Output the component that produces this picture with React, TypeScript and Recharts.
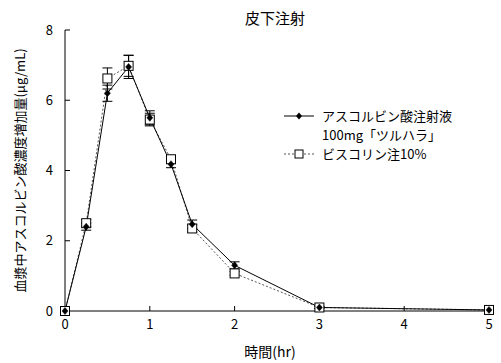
import { type FC } from "react";
import { ErrorBar, Line, LineChart, XAxis, YAxis } from "recharts";

const times = [0, 0.25, 0.5, 0.75, 1, 1.25, 1.5, 2, 3, 5];
const ascorbicValues = [0, 2.4, 6.2, 6.95, 5.5, 4.18, 2.47, 1.3, 0.1, 0.03];
const ascorbicErrors = [0, 0.1, 0.23, 0.33, 0.2, 0.1, 0.12, 0.1, 0.03, 0.02];
const viscorinValues = [0, 2.5, 6.62, 6.98, 5.45, 4.32, 2.35, 1.07, 0.1, 0.03];
const viscorinErrors = [0, 0.1, 0.3, 0.3, 0.18, 0.1, 0.1, 0.05, 0.03, 0.02];
const xTicks = [0, 1, 2, 3, 4, 5];
const yTicks = [0, 2, 4, 6, 8];

const FONT = '"Noto Sans CJK JP", "Noto Sans", sans-serif';

const data = times.map((t, i) => ({
  t,
  a: ascorbicValues[i],
  aErr: ascorbicErrors[i],
  v: viscorinValues[i],
  vErr: viscorinErrors[i],
}));

const DiamondDot = (props: any) => {
  const { cx, cy } = props;
  if (cx == null || cy == null) return null;
  return (
    <polygon
      points={`${cx},${cy - 3.5} ${cx + 3},${cy} ${cx},${cy + 3.5} ${cx - 3},${cy}`}
      fill="#000"
      stroke="#000"
      strokeWidth={0.5}
    />
  );
};

const SquareDot = (props: any) => {
  const { cx, cy } = props;
  if (cx == null || cy == null) return null;
  return (
    <rect x={cx - 4.5} y={cy - 4.5} width={9} height={9} fill="#fff" stroke="#000" strokeWidth={1} />
  );
};

const LegendBox: FC = () => (
  <div
    style={{
      position: "absolute",
      left: 282,
      top: 106,
      fontFamily: FONT,
      fontSize: 13,
      color: "#000",
      lineHeight: "19px",
    }}
  >
    <div style={{ display: "flex", alignItems: "center" }}>
      <svg width={40} height={19}>
        <line x1={2} y1={10} x2={32} y2={10} stroke="#000" strokeWidth={1} />
        <polygon points="17,6.5 20,10 17,13.5 14,10" fill="#000" />
      </svg>
      <span>アスコルビン酸注射液</span>
    </div>
    <div style={{ paddingLeft: 40 }}>100mg「ツルハラ」</div>
    <div style={{ display: "flex", alignItems: "center" }}>
      <svg width={40} height={19}>
        <line x1={2} y1={10} x2={32} y2={10} stroke="#555" strokeWidth={1} strokeDasharray="2 2" />
        <rect x={13} y={6} width={8} height={8} fill="#fff" stroke="#000" />
      </svg>
      <span>ビスコリン注10%</span>
    </div>
  </div>
);

export default function App() {
  return (
    <div style={{ position: "absolute", left: 0, top: 0, width: 501, height: 363, background: "#fff" }}>
      <LineChart
        width={501}
        height={363}
        data={data}
        margin={{ top: 30, right: 12, left: 0, bottom: 0 }}
      >
        <XAxis
          dataKey="t"
          type="number"
          domain={[0, 5]}
          ticks={xTicks}
          height={52}
          stroke="#000"
          tickSize={-5}
          tickMargin={14}
          tick={{ fill: "#000", fontSize: 13, fontFamily: FONT }}
          label={{
            value: "時間(hr)",
            position: "insideBottom",
            offset: 6,
            dx: -7,
            fill: "#000",
            fontSize: 14,
            fontFamily: FONT,
          }}
        />
        <YAxis
          type="number"
          domain={[0, 8]}
          ticks={yTicks}
          width={65}
          stroke="#000"
          tickSize={-5}
          tickMargin={17}
          tick={{ fill: "#000", fontSize: 13, fontFamily: FONT }}
          label={{
            value: "血漿中アスコルビン酸濃度増加量(μg/mL)",
            angle: -90,
            position: "center",
            dx: -12,
            fill: "#000",
            fontSize: 13,
            fontFamily: FONT,
          }}
        />
        <Line
          dataKey="v"
          name="ビスコリン注10%"
          stroke="#555"
          strokeWidth={1}
          strokeDasharray="2 2"
          dot={<SquareDot />}
          activeDot={false}
          isAnimationActive={false}
        >
          <ErrorBar dataKey="vErr" width={5} stroke="#000" strokeWidth={1} />
        </Line>
        <Line
          dataKey="a"
          name="アスコルビン酸注射液100mg「ツルハラ」"
          stroke="#000"
          strokeWidth={1}
          dot={<DiamondDot />}
          activeDot={false}
          isAnimationActive={false}
        >
          <ErrorBar dataKey="aErr" width={5} stroke="#000" strokeWidth={1} />
        </Line>
      </LineChart>
      <div
        style={{
          position: "absolute",
          left: 0,
          width: 550,
          top: 8,
          textAlign: "center",
          fontFamily: FONT,
          fontSize: 15,
          color: "#000",
          lineHeight: "20px",
        }}
      >
        皮下注射
      </div>
      <LegendBox />
    </div>
  );
}
